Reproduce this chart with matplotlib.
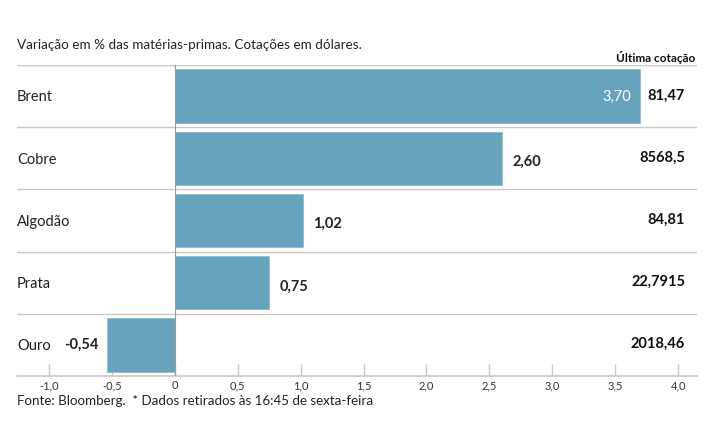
import matplotlib
matplotlib.use("Agg")
import matplotlib.pyplot as plt

categories = ["Brent", "Cobre", "Algodão", "Prata", "Ouro"]
variation = [3.70, 2.60, 1.02, 0.75, -0.54]
last_quote = ["81,47", "8568,5", "84,81", "22,7915", "2018,46"]
xticks = [-1.0, -0.5, 0, 0.5, 1.0, 1.5, 2.0, 2.5, 3.0, 3.5, 4.0]
xticklabels = ["-1,0", "-0,5", "0", "0,5", "1,0", "1,5", "2,0", "2,5", "3,0", "3,5", "4,0"]

plt.rcParams['font.family'] = ['Lato', 'DejaVu Sans']

W, H = 715, 445
fig = plt.figure(figsize=(W / 100, H / 100), dpi=100)
ax = fig.add_axes([17 / W, 1 - 376 / H, 680 / W, 311 / H])

bar_color = "#68a3be"
grid_color = "#c8c8c8"
ypos = list(range(len(categories)))
ax.barh(ypos, variation, height=0.86, color=bar_color, edgecolor="#8bbbd0", linewidth=0.6, zorder=2)

ax.set_xlim(-1.254, 4.15)
ax.set_ylim(4.5, -0.5)

# row separators
for b in [i - 0.5 for i in range(len(categories))]:
    ax.axhline(b, color=grid_color, lw=1.0, zorder=1)
ax.axvline(0, color="#9a9a9a", lw=0.8, zorder=3)

for s in ["top", "right", "left"]:
    ax.spines[s].set_visible(False)
ax.spines["bottom"].set_color(grid_color)
ax.spines["bottom"].set_linewidth(1.2)

ax.set_yticks([])
ax.set_xticks(xticks)
ax.set_xticklabels(xticklabels)
ax.tick_params(axis="x", direction="in", length=9, width=1, color=grid_color,
               labelsize=8, labelcolor="#333333", pad=3)

for i, (cat, v, q) in enumerate(zip(categories, variation, last_quote)):
    ax.text(0.0, i + 0.02, cat, transform=ax.get_yaxis_transform(), ha="left", va="center",
            fontsize=10.5, color="#222222")
    lbl = f"{v:.2f}".replace(".", ",")
    if v >= 3.0:
        ax.text(v - 0.07, i + 0.02, lbl, ha="right", va="center", fontsize=10.5, color="white")
    elif v >= 0:
        ax.text(v + 0.08, i + 0.06, lbl, ha="left", va="center", fontsize=10.5,
                color="#222222", fontweight="bold")
    else:
        ax.text(v - 0.065, i, lbl, ha="right", va="center", fontsize=10.5,
                color="#222222", fontweight="bold")
    fig.text(685 / W, 1 - (65 + 62 * i + 31) / H, q, ha="right", va="center",
             fontsize=10.5, fontweight="bold", color="#111111")

fig.text(17 / W, 1 - 45 / H, "Variação em % das matérias-primas. Cotações em dólares.",
         ha="left", va="center", fontsize=9.7, color="#222222")
fig.text(695 / W, 1 - 57 / H, "Última cotação", ha="right", va="center",
         fontsize=8.6, fontweight="bold", color="#111111")
fig.text(17 / W, 1 - 401 / H, "Fonte: Bloomberg.  * Dados retirados às 16:45 de sexta-feira",
         ha="left", va="center", fontsize=9.6, color="#222222")

fig.savefig("out.png", dpi=100)
